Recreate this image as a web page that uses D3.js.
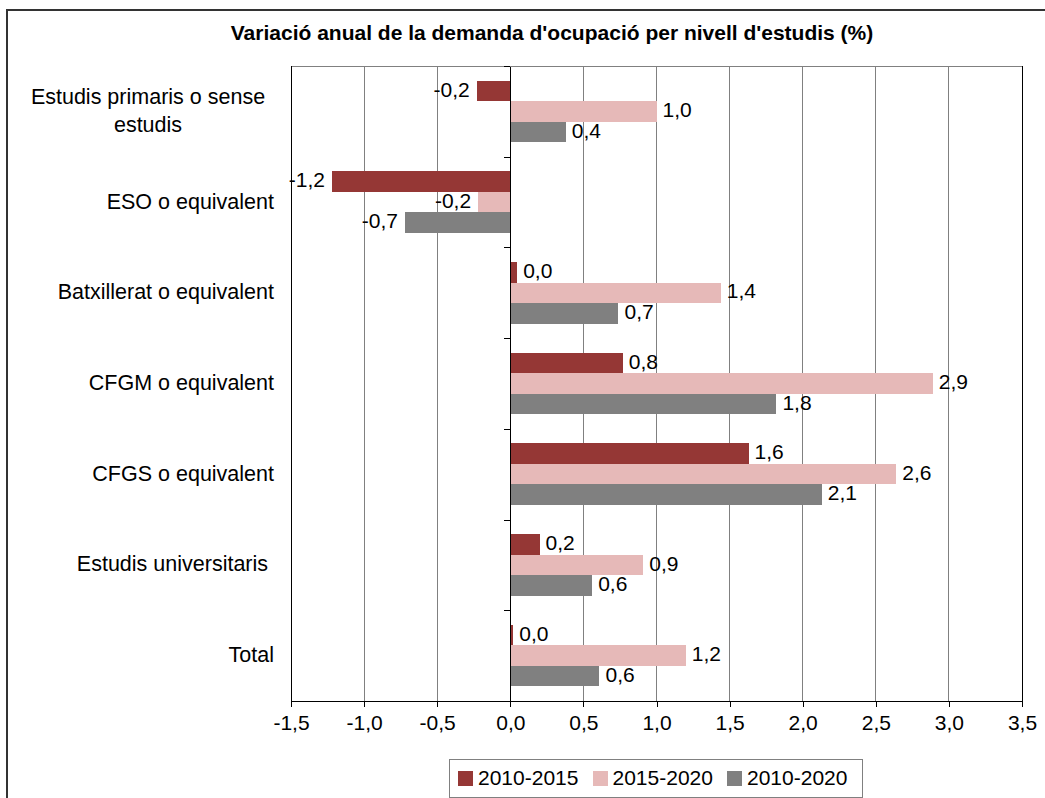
<!DOCTYPE html>
<html>
<head>
<meta charset="utf-8">
<script src="https://cdn.jsdelivr.net/npm/d3@7"></script>
<style>
body { margin: 0; background: #fff; }
svg { display: block; font-family: "Liberation Sans", Arial, sans-serif; }
.crisp { shape-rendering: crispEdges; }
</style>
</head>
<body>
<div id="chart"><svg class="diagram"></svg></div>
<script>

var chartTitle = "Variació anual de la demanda d'ocupació per nivell d'estudis (%)";

// category labels, one entry per line
var categories = [
    ["Estudis primaris o sense", "estudis"],
    ["ESO o equivalent"],
    ["Batxillerat o equivalent"],
    ["CFGM o equivalent"],
    ["CFGS o equivalent"],
    ["Estudis universitaris "],
    ["Total"]
];

var seriesNames = ["2010-2015", "2015-2020", "2010-2020"];
var seriesColors = ["#953735", "#e6b9b8", "#808080"];

var values2010_2015 = [-0.23, -1.22, 0.047, 0.77, 1.63, 0.2, 0.02];
var values2015_2020 = [1.0, -0.22, 1.44, 2.89, 2.64, 0.91, 1.2];
var values2010_2020 = [0.38, -0.72, 0.74, 1.82, 2.13, 0.56, 0.61];

var xTickValues = [-1.5, -1, -0.5, 0, 0.5, 1, 1.5, 2, 2.5, 3, 3.5];


function drawChart(mydiv) {

    var div = d3.select('#' + mydiv);
    var svg = div.select("svg");
    var width = 1045, height = 798;
    svg.attr("width", width).attr("height", height);

    svg.margin = {top: 66, right: 23, bottom: 97, left: 291};

    var series = [values2010_2015, values2015_2020, values2010_2020];

    var fmt = d3.formatLocale({decimal: ",", thousands: ".", grouping: [3], currency: ["", ""], minus: "-"}).format(".1f");

    var x = d3.scaleLinear()
        .domain([xTickValues[0], xTickValues[xTickValues.length - 1]])
        .range([svg.margin.left, width - svg.margin.right]);

    var y = d3.scaleBand()
        .domain(d3.range(categories.length))
        .range([svg.margin.top, height - svg.margin.bottom]);

    var yEdges = d3.scaleLinear()
        .domain([0, categories.length])
        .range([svg.margin.top, height - svg.margin.bottom]);

    var inner = d3.scaleBand()
        .domain(d3.range(series.length))
        .range([0, y.bandwidth()])
        .paddingOuter(0.71);

    var top = svg.margin.top, bottom = height - svg.margin.bottom;

    // outer frame
    svg.append("rect").classed("crisp", true)
        .attr("x", 7).attr("y", 10)
        .attr("width", width + 10).attr("height", height + 10)
        .style("fill", "none").style("stroke", "#333").style("stroke-width", 2);

    svg.append("text")
        .attr("x", 552).attr("y", 40)
        .attr("text-anchor", "middle")
        .style("font-weight", "bold").style("font-size", "21px")
        .style("fill", "#000")
        .text(chartTitle);

    // grid
    svg.append("g").classed("crisp", true).selectAll("line")
        .data(xTickValues)
        .enter().append("line")
        .attr("x1", function(d){ return x(d); })
        .attr("x2", function(d){ return x(d); })
        .attr("y1", top).attr("y2", bottom)
        .style("stroke", "#808080");

    svg.append("line").classed("crisp", true)
        .attr("x1", x.range()[0]).attr("x2", x.range()[1])
        .attr("y1", top).attr("y2", top)
        .style("stroke", "#808080");
    svg.append("g").classed("crisp", true).selectAll("line")
        .data(x.range())
        .enter().append("line")
        .attr("x1", function(d){ return d; })
        .attr("x2", function(d){ return d; })
        .attr("y1", top).attr("y2", bottom)
        .style("stroke", "#000");

    // bars
    series.forEach(function(vals, s){
        svg.append("g").classed("crisp", true).selectAll("rect")
            .data(vals)
            .enter().append("rect")
            .attr("x", function(d){ return x(Math.min(0, d)); })
            .attr("width", function(d){ return Math.abs(x(d) - x(0)); })
            .attr("y", function(d, i){ return y(i) + inner(s); })
            .attr("height", inner.bandwidth())
            .style("fill", seriesColors[s]);
    });

    // y axis at zero
    svg.append("g").classed("crisp", true)
        .attr("transform", "translate(" + x(0) + ",0)")
        .call(d3.axisLeft(yEdges).tickValues(d3.range(categories.length + 1)).tickFormat("").tickSize(6).tickSizeOuter(0))
        .call(function(g){
            g.selectAll("line, path").style("stroke", "#000");
        });

    // x axis
    svg.append("g").classed("crisp", true)
        .attr("transform", "translate(0," + bottom + ")")
        .call(d3.axisBottom(x).tickValues(xTickValues).tickFormat(fmt).tickSize(6).tickSizeOuter(0).tickPadding(8))
        .call(function(g){
            g.selectAll("line, path").style("stroke", "#000");
            g.selectAll("text")
                .style("font-size", "21px")
                .style("font-family", "'Liberation Sans', Arial, sans-serif")
                .style("fill", "#000");
        });

    // value labels
    series.forEach(function(vals, s){
        svg.append("g").selectAll("text")
            .data(vals)
            .enter().append("text")
            .attr("x", function(d){ return d < 0 ? x(d) - 7 : x(d) + 6; })
            .attr("y", function(d, i){ return y(i) + inner(s) + inner.bandwidth() / 2; })
            .attr("dy", "0.27em")
            .attr("text-anchor", function(d){ return d < 0 ? "end" : "start"; })
            .style("font-size", "21px")
            .style("fill", "#000")
            .text(function(d){ return fmt(d); });
    });

    // category labels
    var catG = svg.append("g");
    categories.forEach(function(lines, i){
        var cy = y(i) + y.bandwidth() / 2;
        var t = catG.append("text")
            .style("font-size", "21.5px")
            .style("white-space", "pre")
            .style("fill", "#000");
        if(lines.length > 1){
            lines.forEach(function(line, j){
                t.append("tspan")
                    .attr("x", 148)
                    .attr("y", cy + (j - (lines.length - 1) / 2) * 28)
                    .attr("dy", "0.3em")
                    .attr("text-anchor", "middle")
                    .text(line);
            });
        } else {
            t.attr("x", 274).attr("y", cy).attr("dy", "0.3em")
                .attr("text-anchor", "end")
                .text(lines[0]);
        }
    });

    // legend
    var legend = svg.append("g").attr("transform", "translate(449,759)");
    legend.append("rect").classed("crisp", true)
        .attr("width", 413).attr("height", 38)
        .style("fill", "#fff").style("stroke", "#808080");
    var item = legend.selectAll("g.item")
        .data(seriesNames)
        .enter().append("g").classed("item", true)
        .attr("transform", function(d, i){ return "translate(" + (9 + i * 134.5) + ",0)"; });
    item.append("rect").classed("crisp", true)
        .attr("y", 12).attr("width", 15).attr("height", 15)
        .style("fill", function(d, i){ return seriesColors[i]; });
    item.append("text")
        .attr("x", 20).attr("y", 26)
        .style("font-size", "21px")
        .style("fill", "#000")
        .text(function(d){ return d; });
}

drawChart("chart");

</script>
</body>
</html>
